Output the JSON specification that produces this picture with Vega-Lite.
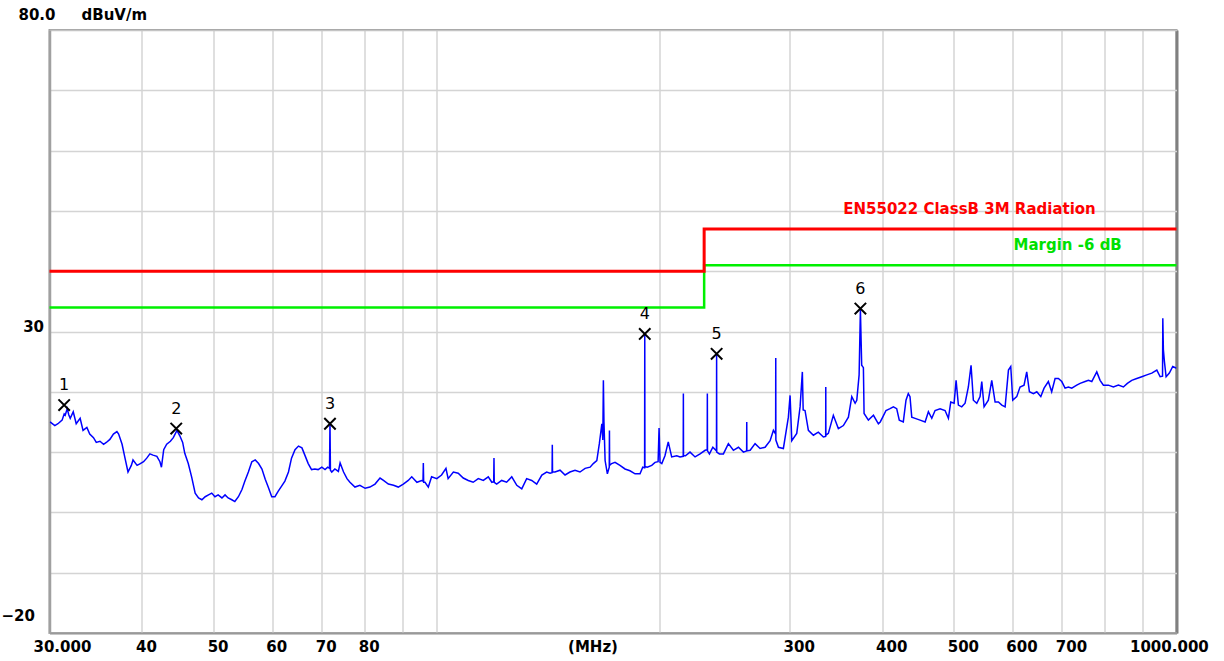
{
  "$schema": "https://vega.github.io/schema/vega-lite/v6.json",
  "width": 1127,
  "height": 603,
  "autosize": {"type": "none"},
  "padding": {"left": 49.5, "top": 30, "right": 47.5, "bottom": 28},
  "background": "white",
  "config": {"view": {"stroke": "#a0a0a0", "strokeWidth": 2}, "font": "DejaVu Sans"},
  "datasets": {
    "trace": [
      {"f":30.05,"v":15.0},{"f":30.5,"v":14.4},{"f":30.8,"v":14.7},{"f":31.2,"v":15.3},{"f":31.4,"v":16.3},{"f":31.5,"v":16.1},{"f":31.7,"v":17.2},{"f":31.85,"v":16.2},{"f":32.0,"v":15.6},{"f":32.3,"v":16.7},{"f":32.6,"v":14.7},{"f":33.0,"v":15.6},{"f":33.3,"v":13.6},{"f":33.7,"v":14.1},{"f":34.0,"v":13.0},{"f":34.4,"v":12.4},{"f":34.7,"v":11.6},{"f":35.1,"v":11.8},{"f":35.5,"v":11.3},{"f":35.8,"v":11.6},{"f":36.2,"v":12.1},{"f":36.6,"v":13.0},{"f":37.0,"v":13.4},{"f":37.2,"v":13.0},{"f":37.6,"v":11.3},{"f":37.9,"v":9.3},{"f":38.3,"v":6.7},{"f":38.7,"v":7.8},{"f":38.9,"v":8.7},{"f":39.4,"v":7.8},{"f":39.8,"v":8.1},{"f":40.2,"v":8.4},{"f":40.6,"v":9.0},{"f":41.0,"v":9.7},{"f":41.4,"v":9.5},{"f":41.9,"v":9.3},{"f":42.3,"v":8.4},{"f":42.5,"v":7.5},{"f":42.8,"v":10.4},{"f":43.2,"v":11.3},{"f":43.7,"v":11.8},{"f":44.1,"v":12.4},{"f":44.6,"v":13.6},{"f":45.0,"v":12.7},{"f":45.4,"v":11.6},{"f":45.7,"v":9.8},{"f":46.2,"v":8.1},{"f":46.7,"v":5.8},{"f":47.2,"v":3.2},{"f":47.7,"v":2.4},{"f":48.2,"v":2.1},{"f":48.7,"v":2.6},{"f":49.2,"v":2.9},{"f":49.7,"v":3.2},{"f":50.2,"v":2.6},{"f":50.7,"v":2.9},{"f":51.3,"v":2.4},{"f":51.8,"v":2.9},{"f":52.3,"v":2.4},{"f":52.9,"v":2.1},{"f":53.4,"v":1.8},{"f":54.0,"v":2.6},{"f":54.6,"v":3.8},{"f":55.1,"v":5.2},{"f":55.7,"v":6.7},{"f":56.3,"v":8.4},{"f":56.9,"v":8.7},{"f":57.5,"v":8.1},{"f":58.1,"v":7.2},{"f":58.7,"v":5.5},{"f":59.3,"v":4.1},{"f":59.9,"v":2.6},{"f":60.5,"v":2.6},{"f":61.1,"v":3.5},{"f":61.8,"v":4.4},{"f":62.4,"v":5.2},{"f":63.1,"v":6.7},{"f":63.7,"v":9.0},{"f":64.4,"v":10.4},{"f":65.1,"v":11.0},{"f":65.8,"v":10.7},{"f":66.4,"v":9.5},{"f":67.1,"v":8.1},{"f":67.8,"v":7.1},{"f":68.5,"v":7.2},{"f":69.2,"v":7.1},{"f":70.0,"v":7.5},{"f":70.7,"v":7.1},{"f":71.3,"v":7.5},{"f":71.7,"v":7.3},{"f":71.8,"v":14.9},{"f":71.9,"v":7.0},{"f":72.2,"v":6.7},{"f":72.9,"v":7.2},{"f":73.7,"v":6.8},{"f":74.1,"v":8.2},{"f":74.9,"v":6.7},{"f":75.7,"v":5.6},{"f":76.4,"v":5.0},{"f":77.6,"v":4.2},{"f":78.8,"v":4.5},{"f":80.1,"v":4.0},{"f":81.3,"v":4.2},{"f":82.6,"v":4.7},{"f":83.9,"v":5.7},{"f":84.8,"v":5.3},{"f":86.1,"v":4.7},{"f":87.5,"v":4.5},{"f":88.8,"v":4.2},{"f":90.2,"v":4.7},{"f":91.6,"v":5.3},{"f":92.6,"v":5.9},{"f":94.1,"v":5.0},{"f":95.5,"v":5.3},{"f":95.9,"v":5.2},{"f":96.0,"v":8.2},{"f":96.1,"v":5.0},{"f":96.5,"v":5.0},{"f":97.5,"v":4.2},{"f":98.5,"v":5.9},{"f":100.1,"v":5.6},{"f":101.6,"v":6.2},{"f":103.0,"v":7.3},{"f":103.7,"v":5.6},{"f":105.4,"v":6.7},{"f":107.0,"v":6.5},{"f":108.7,"v":5.7},{"f":110.4,"v":5.3},{"f":112.1,"v":5.0},{"f":113.9,"v":5.6},{"f":115.7,"v":5.3},{"f":117.5,"v":5.9},{"f":118.8,"v":5.0},{"f":119.5,"v":5.1},{"f":119.6,"v":9.0},{"f":119.7,"v":5.0},{"f":120.6,"v":4.7},{"f":122.5,"v":5.3},{"f":124.4,"v":5.0},{"f":126.4,"v":5.9},{"f":128.4,"v":4.5},{"f":130.4,"v":3.9},{"f":132.4,"v":5.6},{"f":134.5,"v":5.3},{"f":136.6,"v":4.7},{"f":138.8,"v":6.2},{"f":140.9,"v":6.7},{"f":142.4,"v":6.5},{"f":143.3,"v":6.6},{"f":143.4,"v":11.2},{"f":143.5,"v":6.7},{"f":144.6,"v":6.7},{"f":146.9,"v":7.0},{"f":149.2,"v":6.2},{"f":151.5,"v":6.7},{"f":153.9,"v":7.0},{"f":156.3,"v":6.7},{"f":158.8,"v":7.3},{"f":161.3,"v":7.5},{"f":162.9,"v":8.1},{"f":164.7,"v":8.6},{"f":166.0,"v":11.4},{"f":167.3,"v":14.7},{"f":167.8,"v":12.0},{"f":168.1,"v":21.9},{"f":168.4,"v":15.0},{"f":169.0,"v":8.6},{"f":170.2,"v":6.4},{"f":171.2,"v":7.5},{"f":171.3,"v":13.6},{"f":171.4,"v":7.8},{"f":172.5,"v":8.1},{"f":174.3,"v":8.3},{"f":177.0,"v":7.8},{"f":179.8,"v":7.2},{"f":182.6,"v":6.9},{"f":185.5,"v":6.4},{"f":188.4,"v":6.4},{"f":190.0,"v":7.5},{"f":191.1,"v":7.4},{"f":191.2,"v":29.6},{"f":191.3,"v":7.6},{"f":192.7,"v":7.5},{"f":195.4,"v":7.8},{"f":197.4,"v":8.3},{"f":199.3,"v":8.4},{"f":199.9,"v":14.0},{"f":200.5,"v":8.3},{"f":201.6,"v":8.1},{"f":203.6,"v":9.4},{"f":205.7,"v":11.7},{"f":207.9,"v":9.2},{"f":211.2,"v":9.4},{"f":213.4,"v":9.2},{"f":215.5,"v":9.3},{"f":215.6,"v":19.7},{"f":215.7,"v":9.4},{"f":217.0,"v":9.4},{"f":220.1,"v":10.0},{"f":223.6,"v":9.2},{"f":227.1,"v":9.7},{"f":230.7,"v":10.3},{"f":232.2,"v":10.4},{"f":232.3,"v":19.7},{"f":232.4,"v":10.2},{"f":233.8,"v":9.7},{"f":236.3,"v":10.8},{"f":239.0,"v":10.2},{"f":239.1,"v":26.2},{"f":239.2,"v":10.0},{"f":241.2,"v":9.7},{"f":244.2,"v":9.7},{"f":248.0,"v":11.4},{"f":251.9,"v":10.3},{"f":255.9,"v":10.8},{"f":259.9,"v":10.0},{"f":262.5,"v":10.2},{"f":262.6,"v":15.0},{"f":262.7,"v":10.2},{"f":265.4,"v":10.3},{"f":269.5,"v":11.4},{"f":273.7,"v":10.6},{"f":278.0,"v":10.8},{"f":282.4,"v":11.9},{"f":285.3,"v":13.6},{"f":287.3,"v":13.0},{"f":287.4,"v":25.6},{"f":287.5,"v":12.0},{"f":289.8,"v":10.8},{"f":294.3,"v":10.6},{"f":298.9,"v":15.8},{"f":300.5,"v":19.4},{"f":302.1,"v":11.9},{"f":306.8,"v":13.1},{"f":310.0,"v":17.5},{"f":312.2,"v":23.3},{"f":313.0,"v":17.0},{"f":314.8,"v":16.9},{"f":318.1,"v":13.6},{"f":323.1,"v":12.8},{"f":328.1,"v":13.3},{"f":333.3,"v":12.5},{"f":335.7,"v":12.6},{"f":335.8,"v":20.8},{"f":335.9,"v":12.8},{"f":338.5,"v":13.1},{"f":343.8,"v":16.1},{"f":349.2,"v":13.9},{"f":354.7,"v":14.4},{"f":360.3,"v":15.8},{"f":364.1,"v":19.2},{"f":367.9,"v":18.1},{"f":369.8,"v":18.6},{"f":372.5,"v":22.8},{"f":374.0,"v":33.6},{"f":375.5,"v":24.4},{"f":377.5,"v":24.0},{"f":378.3,"v":16.4},{"f":383.4,"v":15.3},{"f":389.5,"v":16.1},{"f":395.5,"v":14.7},{"f":397.8,"v":15.0},{"f":400.9,"v":15.8},{"f":405.0,"v":16.9},{"f":410.1,"v":17.2},{"f":414.4,"v":17.5},{"f":418.7,"v":17.2},{"f":422.1,"v":15.3},{"f":427.4,"v":15.0},{"f":431.0,"v":18.6},{"f":434.1,"v":19.7},{"f":436.4,"v":19.2},{"f":438.8,"v":15.8},{"f":443.4,"v":15.6},{"f":450.3,"v":15.3},{"f":457.4,"v":15.0},{"f":462.1,"v":16.7},{"f":467.0,"v":15.6},{"f":471.8,"v":16.9},{"f":479.2,"v":17.2},{"f":486.7,"v":16.9},{"f":491.8,"v":15.6},{"f":495.4,"v":18.3},{"f":500.6,"v":18.1},{"f":503.7,"v":21.9},{"f":507.3,"v":17.8},{"f":512.6,"v":17.5},{"f":518.0,"v":18.1},{"f":523.3,"v":20.8},{"f":527.7,"v":24.4},{"f":531.5,"v":18.6},{"f":537.2,"v":18.1},{"f":542.7,"v":19.2},{"f":545.6,"v":21.7},{"f":549.5,"v":17.5},{"f":556.9,"v":18.6},{"f":562.8,"v":21.9},{"f":568.7,"v":18.3},{"f":574.6,"v":18.3},{"f":580.7,"v":17.8},{"f":586.7,"v":17.5},{"f":592.8,"v":23.6},{"f":597.1,"v":24.2},{"f":600.8,"v":18.6},{"f":608.3,"v":19.2},{"f":614.6,"v":20.8},{"f":622.3,"v":21.1},{"f":627.5,"v":23.3},{"f":632.8,"v":20.0},{"f":640.7,"v":19.7},{"f":647.5,"v":20.0},{"f":655.6,"v":19.2},{"f":662.3,"v":20.6},{"f":671.2,"v":21.7},{"f":678.2,"v":20.0},{"f":685.4,"v":22.2},{"f":692.5,"v":22.2},{"f":699.8,"v":21.7},{"f":707.0,"v":20.6},{"f":714.3,"v":20.8},{"f":721.9,"v":20.6},{"f":733.2,"v":21.1},{"f":740.9,"v":21.4},{"f":752.5,"v":21.7},{"f":760.3,"v":21.9},{"f":768.3,"v":21.7},{"f":780.3,"v":23.3},{"f":788.4,"v":21.9},{"f":796.6,"v":21.1},{"f":809.0,"v":21.1},{"f":821.7,"v":20.8},{"f":834.6,"v":21.1},{"f":847.7,"v":20.8},{"f":858.2,"v":21.4},{"f":870.0,"v":21.9},{"f":883.7,"v":22.2},{"f":897.6,"v":22.5},{"f":911.7,"v":22.8},{"f":926.0,"v":23.1},{"f":940.6,"v":23.6},{"f":950.4,"v":22.5},{"f":957.5,"v":22.6},{"f":958.3,"v":32.2},{"f":960.0,"v":27.0},{"f":963.1,"v":25.0},{"f":968.2,"v":22.5},{"f":978.0,"v":23.1},{"f":988.4,"v":24.2},{"f":1000,"v":23.9}
    ],
    "limit": [{"f":30,"v":40},{"f":230,"v":47},{"f":1000,"v":47}],
    "margin": [{"f":30,"v":34},{"f":230,"v":41},{"f":1000,"v":41}],
    "labels": [
      {"f":1000,"v":47,"kind":"limit","text":"EN55022 ClassB 3M Radiation"},
      {"f":1000,"v":41,"kind":"margin","text":"Margin -6 dB"}
    ],
    "markers": [
      {"f":31.4,"v":17.8,"n":"1"},{"f":44.5,"v":13.9,"n":"2"},{"f":71.8,"v":14.7,"n":"3"},
      {"f":191.2,"v":29.6,"n":"4"},{"f":239.1,"v":26.3,"n":"5"},{"f":374.0,"v":33.8,"n":"6"}
    ]
  },
  "layer": [
    {
      "data": {"name": "trace"},
      "mark": {"type": "line", "color": "#0000ff", "strokeWidth": 1.5, "clip": true},
      "encoding": {
        "x": {
          "field": "f", "type": "quantitative",
          "scale": {"type": "log", "domain": [30, 1000], "nice": false},
          "axis": {
            "values": [30,40,50,60,70,80,90,100,200,300,400,500,600,700,800,900,1000],
            "labelExpr": "datum.value == 30 ? '30.000' : datum.value == 1000 ? '1000.000' : (datum.value == 90 || datum.value == 100 || datum.value == 200 || datum.value == 800 || datum.value == 900) ? '' : datum.label",
            "grid": true,
            "gridColor": {"condition": {"test": "datum.value == 1000", "value": "#808080"}, "value": "#d4d4d4"},
            "gridWidth": {"condition": {"test": "datum.value == 1000", "value": 3}, "value": 1.5},
            "domain": true, "domainColor": "#999999", "domainWidth": 2,
            "ticks": false,
            "labelFont": "DejaVu Sans", "labelFontWeight": "bold", "labelFontSize": 15, "labelColor": "#000000",
            "labelAlign": "left", "labelBaseline": "top", "labelPadding": 6,
            "labelOffset": {"condition": [{"test": "datum.value == 30", "value": -16.5}, {"test": "datum.value == 1000", "value": -47}], "value": -6.5},
            "labelOverlap": false, "labelFlush": false, "labelBound": false,
            "title": "(MHz)", "titleX": 543, "titleY": 6, "titleAlign": "center", "titleBaseline": "top",
            "titleFont": "DejaVu Sans", "titleFontWeight": "bold", "titleFontSize": 15, "titleColor": "#000000"
          }
        },
        "y": {
          "field": "v", "type": "quantitative",
          "scale": {"domain": [-20, 80], "nice": false, "zero": false},
          "axis": {
            "values": [-20,-10,0,10,20,30,40,50,60,70,80],
            "labelExpr": "datum.value == 80 ? '80.0' : (datum.value == 30 || datum.value == -20) ? datum.label : ''",
            "grid": true,
            "gridColor": {"condition": {"test": "datum.value == 80", "value": "#c4c4c4"}, "value": "#d4d4d4"},
            "gridWidth": 1.5,
            "domain": true, "domainColor": "#a0a0a0", "domainWidth": 2.5,
            "ticks": false,
            "labelFont": "DejaVu Sans", "labelFontWeight": "bold", "labelFontSize": 15, "labelColor": "#000000",
            "labelAlign": "right", "labelBaseline": "middle",
            "labelPadding": {"condition": [{"test": "datum.value == 80", "value": -5.5}, {"test": "datum.value == -20", "value": 15}], "value": 6},
            "labelOffset": {"condition": [{"test": "datum.value == 80", "value": -16}, {"test": "datum.value == -20", "value": -18}], "value": -5},
            "labelOverlap": false, "labelFlush": false, "labelBound": false,
            "title": "dBuV/m", "titleAngle": 0, "titleX": 31.5, "titleY": -16, "titleAlign": "left", "titleBaseline": "middle",
            "titleFont": "DejaVu Sans", "titleFontWeight": "bold", "titleFontSize": 15, "titleColor": "#000000"
          }
        }
      }
    },
    {
      "data": {"name": "margin"},
      "mark": {"type": "line", "color": "#00f000", "strokeWidth": 2.5, "interpolate": "step-after"},
      "encoding": {"x": {"field": "f", "type": "quantitative"}, "y": {"field": "v", "type": "quantitative"}}
    },
    {
      "data": {"name": "limit"},
      "mark": {"type": "line", "color": "#ff0000", "strokeWidth": 3, "interpolate": "step-after"},
      "encoding": {"x": {"field": "f", "type": "quantitative"}, "y": {"field": "v", "type": "quantitative"}}
    },
    {
      "data": {"name": "labels"},
      "transform": [{"filter": "datum.kind == 'limit'"}],
      "mark": {"type": "text", "align": "right", "baseline": "middle", "dx": -80.7, "dy": -20, "font": "DejaVu Sans", "fontWeight": "bold", "fontSize": 15, "color": "#ff0000"},
      "encoding": {"x": {"field": "f", "type": "quantitative"}, "y": {"field": "v", "type": "quantitative"}, "text": {"field": "text"}}
    },
    {
      "data": {"name": "labels"},
      "transform": [{"filter": "datum.kind == 'margin'"}],
      "mark": {"type": "text", "align": "right", "baseline": "middle", "dx": -54.7, "dy": -20, "font": "DejaVu Sans", "fontWeight": "bold", "fontSize": 15, "color": "#00e000"},
      "encoding": {"x": {"field": "f", "type": "quantitative"}, "y": {"field": "v", "type": "quantitative"}, "text": {"field": "text"}}
    },
    {
      "data": {"name": "markers"},
      "mark": {"type": "point", "shape": "M-1,-1L1,1M1,-1L-1,1", "size": 130, "stroke": "#000000", "strokeWidth": 2, "filled": false, "opacity": 1},
      "encoding": {"x": {"field": "f", "type": "quantitative"}, "y": {"field": "v", "type": "quantitative"}}
    },
    {
      "data": {"name": "markers"},
      "mark": {"type": "text", "align": "center", "baseline": "middle", "dy": -20, "font": "DejaVu Sans", "fontSize": 16, "color": "#000000"},
      "encoding": {"x": {"field": "f", "type": "quantitative"}, "y": {"field": "v", "type": "quantitative"}, "text": {"field": "n"}}
    }
  ]
}
